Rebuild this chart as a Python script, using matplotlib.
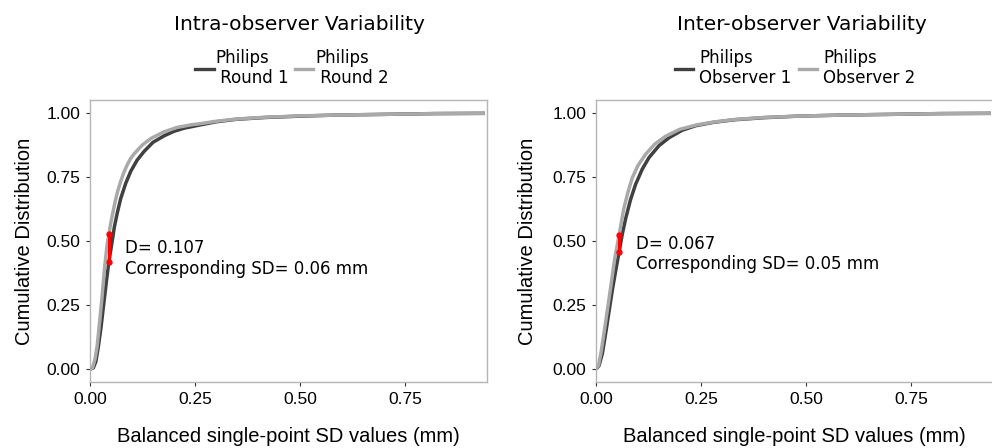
import matplotlib
matplotlib.use("Agg")
import matplotlib.pyplot as plt
from matplotlib.lines import Line2D

# ---- data ----
# Intra-observer panel (ECDF curves)
intra_r1_x = [0.0, 0.008, 0.014, 0.020, 0.026, 0.032, 0.040, 0.045, 0.052, 0.058, 0.065, 0.073,
              0.085, 0.097, 0.112, 0.129, 0.150, 0.176, 0.200, 0.224, 0.26, 0.30, 0.35, 0.42,
              0.50, 0.58, 0.70, 0.82, 0.94]
intra_r1_y = [0.0, 0.005, 0.03, 0.09, 0.16, 0.245, 0.355, 0.42, 0.49, 0.555, 0.61, 0.665,
              0.725, 0.772, 0.815, 0.85, 0.885, 0.91, 0.928, 0.94, 0.952, 0.965, 0.975, 0.982,
              0.987, 0.991, 0.994, 0.997, 0.998]
intra_r2_x = [0.0, 0.006, 0.012, 0.017, 0.022, 0.028, 0.035, 0.041, 0.045, 0.050, 0.055, 0.060,
              0.066, 0.073, 0.080, 0.088, 0.096, 0.105, 0.125, 0.145, 0.175, 0.207, 0.24, 0.26,
              0.30, 0.35, 0.42, 0.50, 0.58, 0.70, 0.82, 0.94]
intra_r2_y = [0.0, 0.005, 0.04, 0.09, 0.17, 0.27, 0.40, 0.49, 0.527, 0.575, 0.615, 0.655,
              0.695, 0.732, 0.765, 0.795, 0.82, 0.84, 0.875, 0.90, 0.925, 0.943, 0.953, 0.957,
              0.967, 0.976, 0.983, 0.988, 0.991, 0.994, 0.997, 0.998]

# Inter-observer panel
inter_o1_x = [0.0, 0.007, 0.015, 0.023, 0.031, 0.039, 0.047, 0.055, 0.063, 0.071, 0.082, 0.094,
              0.110, 0.126, 0.150, 0.174, 0.205, 0.238, 0.28, 0.33, 0.40, 0.48, 0.58, 0.70,
              0.82, 0.94]
inter_o1_y = [0.0, 0.013, 0.06, 0.14, 0.225, 0.31, 0.385, 0.457, 0.53, 0.59, 0.66, 0.72,
              0.78, 0.825, 0.872, 0.903, 0.932, 0.95, 0.963, 0.973, 0.981, 0.987, 0.991, 0.994,
              0.997, 0.998]
inter_o2_x = [0.0, 0.006, 0.012, 0.019, 0.027, 0.035, 0.044, 0.055, 0.060, 0.066, 0.076, 0.086,
              0.100, 0.118, 0.140, 0.165, 0.20, 0.24, 0.28, 0.33, 0.40, 0.48, 0.58, 0.70,
              0.82, 0.94]
inter_o2_y = [0.0, 0.015, 0.065, 0.14, 0.23, 0.32, 0.425, 0.524, 0.57, 0.625, 0.69, 0.745,
              0.795, 0.838, 0.878, 0.908, 0.936, 0.953, 0.964, 0.974, 0.982, 0.987, 0.991, 0.994,
              0.997, 0.998]

# KS distance segments
intra_seg_x = [0.045, 0.045]
intra_seg_y = [0.42, 0.527]
inter_seg_x = [0.055, 0.055]
inter_seg_y = [0.457, 0.524]

titles = ["Intra-observer Variability", "Inter-observer Variability"]
labels_intra = ["Philips\n Round 1", "Philips\n Round 2"]
labels_inter = ["Philips\nObserver 1", "Philips\nObserver 2"]
notes = ["D= 0.107\nCorresponding SD= 0.06 mm", "D= 0.067\nCorresponding SD= 0.05 mm"]
xticks = [0.0, 0.25, 0.50, 0.75]
yticks = [0.0, 0.25, 0.50, 0.75, 1.00]

DARK = "#404040"
LIGHT = "#a9a9a9"
W, H = 992, 448

fig = plt.figure(figsize=(W / 100, H / 100), dpi=100)
ax1 = fig.add_axes([90 / W, 1 - 382 / H, 397 / W, 282 / H])
ax2 = fig.add_axes([596 / W, 1 - 382 / H, 397 / W, 282 / H])

panels = [
    (ax1, intra_r1_x, intra_r1_y, intra_r2_x, intra_r2_y, intra_seg_x, intra_seg_y, 0.083, 0.507),
    (ax2, inter_o1_x, inter_o1_y, inter_o2_x, inter_o2_y, inter_seg_x, inter_seg_y, 0.096, 0.525),
]

for i, (ax, x1, y1, x2, y2, sx, sy, tx, ty) in enumerate(panels):
    ax.plot(x1, y1, color=DARK, lw=2.5, solid_capstyle="butt", zorder=2)
    ax.plot(x2, y2, color=LIGHT, lw=2.5, solid_capstyle="butt", zorder=3)
    ax.plot(sx, sy, color="red", lw=2.2, marker="o", markersize=3.5, zorder=4)
    ax.text(tx, ty, notes[i], fontsize=12, family="DejaVu Sans", va="top", ha="left",
            linespacing=1.2)

    ax.set_xlim(0, 0.945)
    ax.set_ylim(-0.05, 1.05)
    ax.set_xticks(xticks)
    ax.set_yticks(yticks)
    ax.set_xticklabels([f"{v:.2f}" for v in xticks], family="Liberation Sans", fontsize=12.5)
    ax.set_yticklabels([f"{v:.2f}" for v in yticks], family="Liberation Sans", fontsize=12.5)
    ax.tick_params(length=3, width=0.8, color="#333333", pad=4)
    for sp in ax.spines.values():
        sp.set_color("#b5b5b5")
        sp.set_linewidth(1.0)

    ax.set_xlabel("Balanced single-point SD values (mm)", family="Liberation Sans", fontsize=14.5)
    ax.set_ylabel("Cumulative Distribution", family="Liberation Sans", fontsize=14.5)
    ax.xaxis.set_label_coords(0.5, -0.16)

ax1.yaxis.set_label_coords(-0.14, 0.5)
ax2.yaxis.set_label_coords(-0.148, 0.5)

# titles
fig.text(299 / W, 1 - 24 / H, titles[0], fontsize=14.5, family="DejaVu Sans", ha="center", va="center")
fig.text(802 / W, 1 - 24 / H, titles[1], fontsize=14.5, family="DejaVu Sans", ha="center", va="center")

# legends
handles = [Line2D([], [], color=DARK, lw=2.4), Line2D([], [], color=LIGHT, lw=2.4)]
fig.legend(handles, labels_intra, loc="center", bbox_to_anchor=(292 / W, 1 - 68 / H), ncol=2,
           frameon=False, prop={"family": "DejaVu Sans", "size": 12}, handlelength=1.1,
           handletextpad=0.1, columnspacing=0.35, borderaxespad=0)
fig.legend(handles, labels_inter, loc="center", bbox_to_anchor=(795 / W, 1 - 68 / H), ncol=2,
           frameon=False, prop={"family": "DejaVu Sans", "size": 12}, handlelength=1.1,
           handletextpad=0.36, columnspacing=0.46, borderaxespad=0)

fig.savefig("out.png", dpi=100)
